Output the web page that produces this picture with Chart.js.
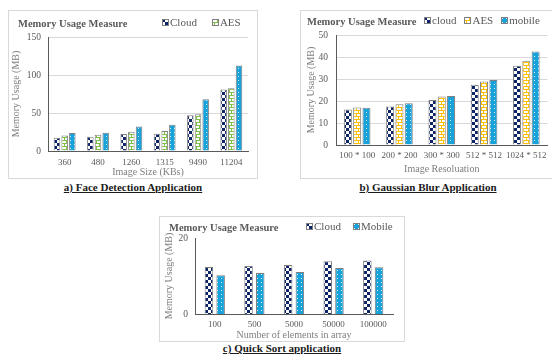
<!DOCTYPE html>
<html>
<head>
<meta charset="utf-8">
<script src="https://cdn.jsdelivr.net/npm/chart.js@4.4.1/dist/chart.umd.min.js"></script>
<style>
  body { margin: 0; width: 552px; height: 356px; overflow: hidden; background: #fff; position: relative;
         font-family: "Liberation Serif", "Times New Roman", serif; }
  .box { position: absolute; border: 1px solid #d9d9d9; }
  .box canvas { position: absolute; left: 0; top: 0; }
  .ttl { position: absolute; font-weight: bold; font-size: 10.5px; line-height: 11px; color: #595959; white-space: nowrap; }
  .leg { position: absolute; font-size: 11px; line-height: 11px; color: #595959; white-space: nowrap; display: flex; align-items: center; }
  .leg canvas { display: block; margin-right: 1px; }
  .cap { position: absolute; font-weight: bold; font-size: 11px; line-height: 12px; color: #1a1a1a; white-space: nowrap;
         text-decoration: underline; transform: translateX(-50%); }
</style>
</head>
<body>
<div class="box" style="left:8px;top:10px;width:248px;height:167px"><canvas id="face" width="248" height="167"></canvas></div>
<div class="box" style="left:300px;top:10px;width:260px;height:167px"><canvas id="blur" width="251" height="167"></canvas></div>
<div class="box" style="left:159px;top:216px;width:244px;height:124px"><canvas id="sort" width="244" height="124"></canvas></div>

<div class="ttl" style="left:18px;top:18px">Memory Usage Measure</div>
<div class="ttl" style="left:307px;top:16px">Memory Usage Measure</div>
<div class="ttl" style="left:169px;top:222px">Memory Usage Measure</div>

<div class="leg" id="faceLeg" style="left:162px;top:17px"></div>
<div class="leg" id="blurLeg" style="left:424px;top:15px"></div>
<div class="leg" id="sortLeg" style="left:306px;top:221px"></div>

<div class="cap" style="left:133px;top:181px">a) Face Detection Application</div>
<div class="cap" style="left:428px;top:181px">b) Gaussian Blur Application</div>
<div class="cap" style="left:282px;top:342px">c) Quick Sort application</div>

<script>
// a) face detection
const faceLabels = ["360", "480", "1260", "1315", "9490", "11204"];
const faceCloud = [17.5, 18.8, 22.3, 22.7, 47.2, 80.9];
const faceAes = [20.5, 21.4, 25.4, 26.2, 48.5, 82.6];
const faceMobile = [23.6, 24.0, 32.4, 34.5, 68.2, 112.4];
const faceLegend = ["Cloud", "AES"];

// b) gaussian blur
const blurLabels = ["100 * 100", "200 * 200", "300 * 300", "512 * 512", "1024 * 512"];
const blurCloud = [16.1, 17.5, 20.5, 27.4, 36.0];
const blurAes = [17.0, 18.5, 22.0, 28.9, 38.3];
const blurMobile = [16.9, 19.0, 22.3, 29.5, 42.5];
const blurLegend = ["cloud", "AES", "mobile"];

// c) quick sort
const sortLabels = ["100", "500", "5000", "50000", "100000"];
const sortCloud = [12.4, 12.6, 12.9, 13.9, 14.1];
const sortMobile = [10.2, 10.8, 11.05, 12.1, 12.3];
const sortLegend = ["Cloud", "Mobile"];

const FONT = '"Liberation Serif", "Times New Roman", serif';
const NAVY = "#0c2466";

function tile(w, h, paint) {
  const c = document.createElement("canvas");
  c.width = w;
  c.height = h;
  paint(c.getContext("2d"));
  return c.getContext("2d").createPattern(c, "repeat");
}

function checker(cell) {
  return tile(cell * 2, cell * 2, (g) => {
    g.fillStyle = "#fff";
    g.fillRect(0, 0, cell * 2, cell * 2);
    g.fillStyle = NAVY;
    g.fillRect(0, 0, cell, cell);
    g.fillRect(cell, cell, cell, cell);
  });
}

function brick(color) {
  return tile(5, 6, (g) => {
    g.fillStyle = "#fff";
    g.fillRect(0, 0, 5, 6);
    g.fillStyle = color;
    g.fillRect(0, 0, 5, 1);
    g.fillRect(0, 3, 5, 1);
    g.fillRect(0, 0, 1, 3);
    g.fillRect(2, 3, 1, 3);
  });
}

function dots(color) {
  return tile(4, 4, (g) => {
    g.fillStyle = color;
    g.fillRect(0, 0, 4, 4);
    g.fillStyle = "rgba(255,255,255,0.85)";
    g.fillRect(1, 1, 1, 1);
  });
}

function bars(label, data, fill) {
  return { label: label, data: data, backgroundColor: fill, borderColor: "#7f7f7f", borderWidth: 1 };
}

function makeChart(id, labels, datasets, s) {
  return new Chart(document.getElementById(id), {
    type: "bar",
    data: { labels: labels, datasets: datasets },
    options: {
      responsive: false,
      animation: false,
      layout: { padding: { top: s.top, right: s.right, left: 0, bottom: 0 } },
      datasets: { bar: { categoryPercentage: s.cat, barPercentage: s.bar } },
      plugins: { legend: { display: false }, title: { display: false }, tooltip: { enabled: false } },
      scales: {
        x: {
          grid: { display: false, drawTicks: false },
          border: { color: "#595959" },
          ticks: { color: "#595959", font: { family: FONT, size: 9 }, padding: s.xPad, maxRotation: 0, autoSkip: false },
          title: { display: true, text: s.xTitle, color: "#7f7f7f", font: { family: FONT, size: 10, lineHeight: 1 },
                   padding: { top: 0, bottom: s.xTitlePad } },
          afterFit: (sc) => { sc.height = s.xH; },
        },
        y: {
          min: 0,
          max: s.max,
          grid: { display: s.grid, color: "#d9d9d9", drawTicks: false },
          border: { color: "#595959" },
          ticks: { stepSize: s.step, color: "#595959", font: { family: FONT, size: 9.5 }, padding: s.yPad },
          title: { display: true, text: "Memory Usage (MB)", color: "#7f7f7f", font: { family: FONT, size: 10 },
                   padding: { top: s.yTitlePad, bottom: 0 } },
          afterFit: (sc) => { sc.width = s.yW; },
        },
      },
    },
  });
}

function buildLegend(chart, elId, names, gap) {
  const el = document.getElementById(elId);
  chart.data.datasets.filter((d) => names.includes(d.label)).forEach((d, i) => {
    const item = document.createElement("span");
    item.style.display = "flex";
    item.style.alignItems = "center";
    if (i > 0) item.style.marginLeft = gap + "px";
    const sw = document.createElement("canvas");
    sw.width = 7;
    sw.height = 7;
    const g = sw.getContext("2d");
    g.fillStyle = d.backgroundColor;
    g.fillRect(0, 0, 7, 7);
    g.strokeStyle = "#7f7f7f";
    g.strokeRect(0.5, 0.5, 6, 6);
    item.appendChild(sw);
    item.appendChild(document.createTextNode(d.label));
    el.appendChild(item);
  });
}

const faceChart = makeChart("face", faceLabels, [
  bars("Cloud", faceCloud, checker(3)),
  bars("AES", faceAes, brick("#7cc242")),
  bars("Mobile", faceMobile, dots("#17a2dc")),
], { top: 26, right: 9, xH: 27, yW: 39, cat: 0.69, bar: 0.85, max: 150, step: 50, grid: true,
     xPad: 6, yPad: 7, xTitle: "Image Size (KBs)", xTitlePad: 1, yTitlePad: 1 });

const blurChart = makeChart("blur", blurLabels, [
  bars("cloud", blurCloud, checker(3)),
  bars("AES", blurAes, brick("#ffc000")),
  bars("mobile", blurMobile, dots("#17a2dc")),
], { top: 24, right: 4, xH: 33, yW: 35, cat: 0.66, bar: 0.86, max: 50, step: 10, grid: true,
     xPad: 5, yPad: 8, xTitle: "Image Resoluation", xTitlePad: 4, yTitlePad: 4 });

const sortChart = makeChart("sort", sortLabels, [
  bars("Cloud", sortCloud, checker(3)),
  bars("Mobile", sortMobile, dots("#17a2dc")),
], { top: 21, right: 11, xH: 27, yW: 35, cat: 0.59, bar: 0.73, max: 20, step: 20, grid: false,
     xPad: 5, yPad: 7, xTitle: "Number of elements in array", xTitlePad: 1, yTitlePad: 3 });

buildLegend(faceChart, "faceLeg", faceLegend, 15);
buildLegend(blurChart, "blurLeg", blurLegend, 8);
buildLegend(sortChart, "sortLeg", sortLegend, 12);
</script>
</body>
</html>
